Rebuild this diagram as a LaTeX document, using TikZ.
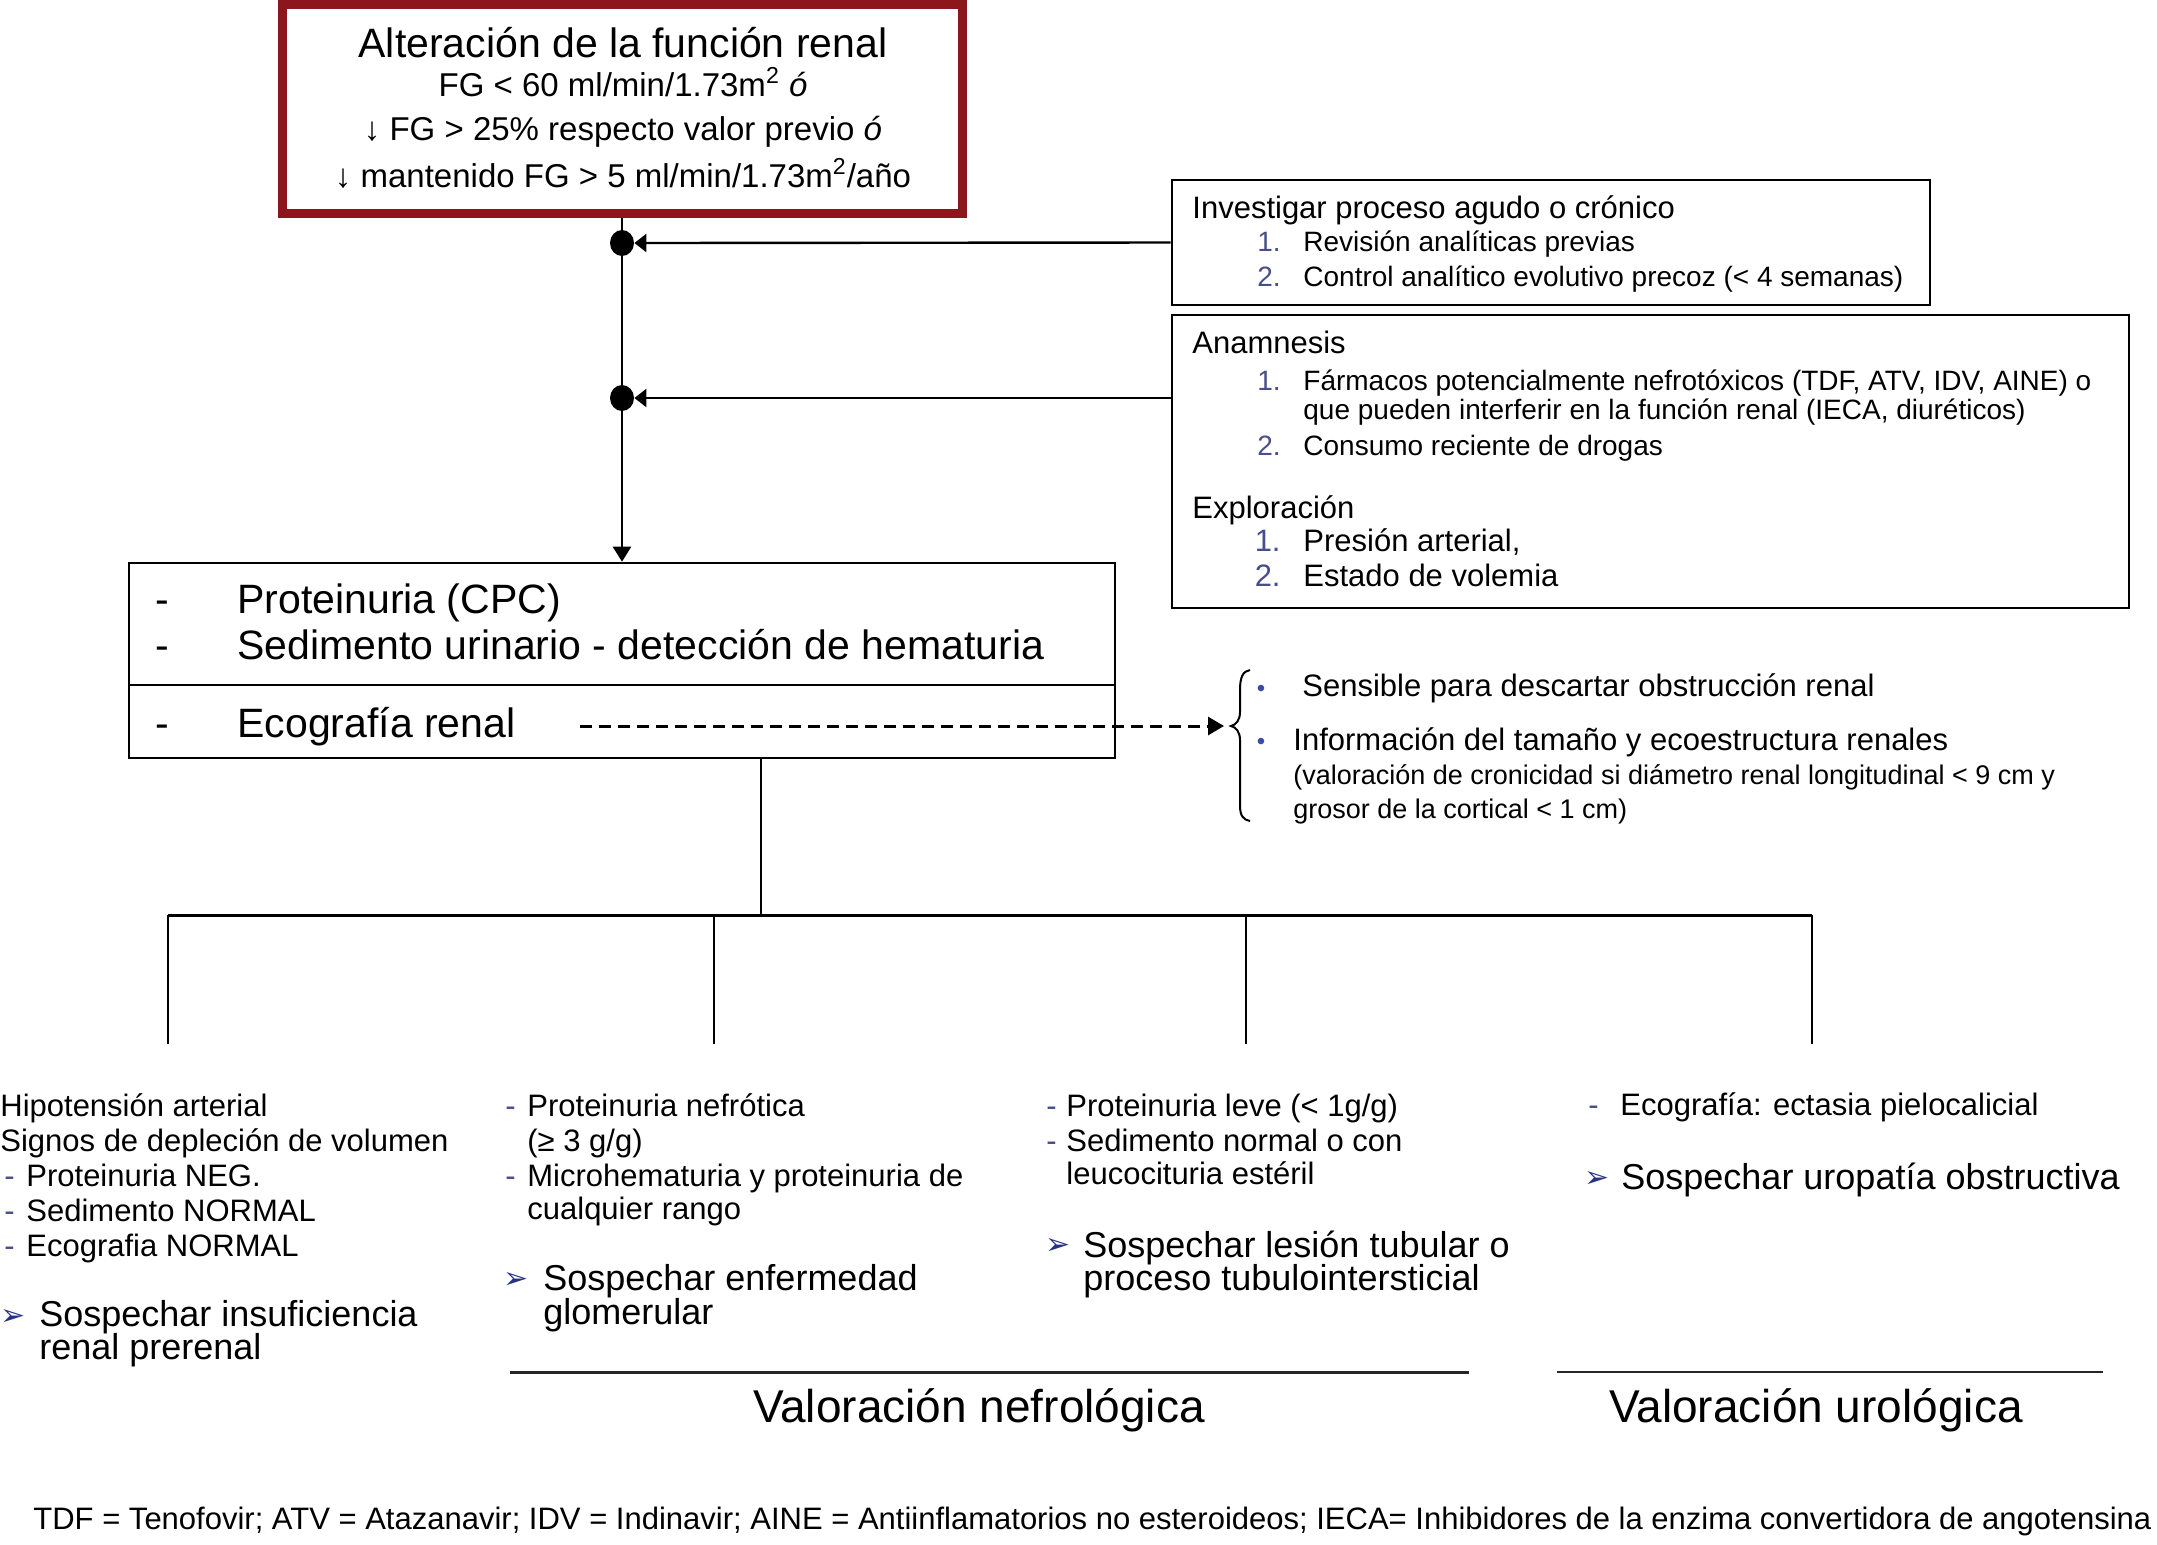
\documentclass[tikz,border=0pt]{standalone}
\usepackage{fontspec}
\setmainfont{Liberation Sans}
\newfontfamily\symfont{DejaVu Sans}
\usetikzlibrary{arrows.meta,shapes.geometric}
\definecolor{boxred}{RGB}{140,22,28}
\definecolor{numblue}{RGB}{72,78,140}
\definecolor{bulblue}{RGB}{60,75,165}
\definecolor{arrblue}{RGB}{40,50,130}
\newcommand\myfs[1]{\fontsize{#1}{#1}\selectfont}
\begin{document}
\begin{tikzpicture}[x=0.5pt,y=-0.5pt,
  lbl/.style={inner sep=0, anchor=west, text height=.9em, text depth=.2em},
  numlbl/.style={inner sep=0, anchor=east, text height=.9em, text depth=.2em, text=numblue},
  ctr/.style={inner sep=0, anchor=center, text height=.9em, text depth=.2em},
  boxn/.style={draw, line width=1.3pt, inner sep=0, rectangle},
  conn/.style={line width=1.2pt},
  thin/.style={line width=1pt},
  dotn/.style={ellipse, fill=black, inner sep=0, minimum width=12pt, minimum height=13pt},
  fA/.style={font=\myfs{20.5}},
  fB/.style={font=\myfs{16.5}},
  fH/.style={font=\myfs{15.5}},
  fI/.style={font=\myfs{14}},
  fS/.style={font=\myfs{13.5}},
  fP/.style={font=\myfs{18}},
  fV/.style={font=\myfs{23}},
  dsh/.style={lbl, font=\myfs{15.5}, text=numblue},
  arr/.style={lbl, font=\symfont\myfs{15}, text=arrblue},
  bul/.style={ctr, font=\myfs{12}, text=bulblue}
]
\useasboundingbox (0,0) rectangle (2157,1544);
\fill[white] (0,0) rectangle (2157,1544);

% ---- top red box
\node[draw=boxred, line width=4.5pt, inner sep=0, minimum width=340pt, minimum height=104.5pt] (alt) at (622,108.5) {};
\node[ctr, fA] (a1) at (623,50) {Alteración de la función renal};
\node[ctr, fB] (a2) at (623,89) {FG < 60 ml/min/1.73m\textsuperscript{2} \textit{ó}};
\node[ctr, fB] (a3) at (623,133) {↓ FG > 25\% respecto valor previo \textit{ó}};
\node[ctr, fB] (a4) at (623,180) {↓ mantenido FG > 5 ml/min/1.73m\textsuperscript{2}/año};

% ---- right boxes
\node[boxn, minimum width=379pt, minimum height=62.5pt] (inv) at (1551,242.5) {};
\node[lbl, fH] (i0) at (1192,211) {Investigar proceso agudo o crónico};
\node[numlbl, fI] (i1n) at (1281,244) {1.};
\node[lbl, fI] (i1) at (1303,244) {Revisión analíticas previas};
\node[numlbl, fI] (i2n) at (1281,279) {2.};
\node[lbl, fI] (i2) at (1303,279) {Control analítico evolutivo precoz (< 4 semanas)};

\node[boxn, minimum width=478.5pt, minimum height=146.5pt] (ana) at (1650.5,461.5) {};
\node[lbl, fH] (n0) at (1192,346) {Anamnesis};
\node[numlbl, fI] (n1n) at (1281,383) {1.};
\node[lbl, fI] (n1) at (1303,383) {Fármacos potencialmente nefrotóxicos (TDF, ATV, IDV, AINE) o};
\node[lbl, fI] (n1b) at (1303,412) {que pueden interferir en la función renal (IECA, diuréticos)};
\node[numlbl, fI] (n2n) at (1281,448) {2.};
\node[lbl, fI] (n2) at (1303,448) {Consumo reciente de drogas};
\node[lbl, fH] (e0) at (1192,511) {Exploración};
\node[numlbl, fH] (e1n) at (1281,544) {1.};
\node[lbl, fH] (e1) at (1303,544) {Presión arterial,};
\node[numlbl, fH] (e2n) at (1281,579) {2.};
\node[lbl, fH] (e2) at (1303,579) {Estado de volemia};

% ---- middle box
\node[boxn, minimum width=493pt, minimum height=61pt] (midA) at (622,624) {};
\node[boxn, minimum width=493pt, minimum height=36.5pt] (midB) at (622,721.5) {};
\node[lbl, fA] (m1d) at (155,606) {-};
\node[lbl, fA] (m1) at (237,606) {Proteinuria (CPC)};
\node[lbl, fA] (m2d) at (155,652) {-};
\node[lbl, fA] (m2) at (237,652) {Sedimento urinario - detección de hematuria};
\node[lbl, fA] (m3d) at (155,730) {-};
\node[lbl, fA] (m3) at (237,730) {Ecografía renal};

% ---- main vertical connector with junction dots
\draw[conn, -{Triangle[length=7.5pt,width=9pt]}] (alt.south) -- (midA.north);
\node[dotn] (d1) at (622,243) {};
\node[dotn] (d2) at (622,398) {};
\draw[conn, -{Triangle[length=6pt,width=9pt]}] (inv.west) -- (d1.east);
\draw[conn, -{Triangle[length=6pt,width=9pt]}] (ana.west |- d2) -- (d2.east);

% ---- dashed arrow and brace
\coordinate (dstart) at (580,726);
\coordinate (brtip) at (1224,726);
\draw[line width=1.5pt, dash pattern=on 6pt off 3.5pt, -{Triangle[length=8pt,width=9pt]}] (dstart) -- (brtip);
\draw[line width=1pt] (1250,670) .. controls (1243,671) and (1240,677) .. (1240,690) -- (1240,712) .. controls (1240,720) and (1236,725) .. (1231,726) .. controls (1236,727) and (1240,732) .. (1240,740) -- (1240,806) .. controls (1240,815) and (1243,820) .. (1250,821);
\node[bul] (b1) at (1261,689) {•};
\node[lbl, fH] (s1) at (1302,689) {Sensible para descartar obstrucción renal};
\node[bul] (b2) at (1261,742) {•};
\node[lbl, fH] (s2) at (1293,743) {Información del tamaño y ecoestructura renales};
\node[lbl, fS] (s3) at (1293,777) {(valoración de cronicidad si diámetro renal longitudinal < 9 cm y};
\node[lbl, fS] (s4) at (1293,811) {grosor de la cortical < 1 cm)};

% ---- lower tree
\coordinate (split) at (761,915);
\coordinate (h1) at (168,915);
\coordinate (h2) at (714,915);
\coordinate (h3) at (1246,915);
\coordinate (h4) at (1812,915);
\coordinate (f1) at (168,1044);
\coordinate (f2) at (714,1044);
\coordinate (f3) at (1246,1044);
\coordinate (f4) at (1812,1044);
\draw[thin] (midB.south -| split) -- (split);
\draw[line width=1.5pt] (h1) -- (h4);
\draw[thin] (h1) -- (f1);
\draw[thin] (h2) -- (f2);
\draw[thin] (h3) -- (f3);
\draw[thin] (h4) -- (f4);

% ---- column 1
\node[lbl, fH] (c1a) at (0,1109) {Hipotensión arterial};
\node[lbl, fH] (c1b) at (0,1144) {Signos de depleción de volumen};
\node[dsh] (c1cd) at (4,1179) {-};
\node[lbl, fH] (c1c) at (26,1179) {Proteinuria NEG.};
\node[dsh] (c1dd) at (4,1214) {-};
\node[lbl, fH] (c1d) at (26,1214) {Sedimento NORMAL};
\node[dsh] (c1ed) at (4,1249) {-};
\node[lbl, fH] (c1e) at (26,1249) {Ecografia NORMAL};
\node[arr] (c1fa) at (0,1318) {➢};
\node[lbl, fP] (c1f) at (39,1319) {Sospechar insuficiencia};
\node[lbl, fP] (c1g) at (39,1352) {renal prerenal};

% ---- column 2
\node[dsh] (c2ad) at (505,1109) {-};
\node[lbl, fH] (c2a) at (527,1109) {Proteinuria nefrótica};
\node[lbl, fH] (c2b) at (527,1144) {(≥ 3 g/g)};
\node[dsh] (c2cd) at (505,1179) {-};
\node[lbl, fH] (c2c) at (527,1179) {Microhematuria y proteinuria de};
\node[lbl, fH] (c2d) at (527,1212) {cualquier rango};
\node[arr] (c2ea) at (503,1281) {➢};
\node[lbl, fP] (c2e) at (543,1283) {Sospechar enfermedad};
\node[lbl, fP] (c2f) at (543,1317) {glomerular};

% ---- column 3
\node[dsh] (c3ad) at (1046,1109) {-};
\node[lbl, fH] (c3a) at (1066,1109) {Proteinuria leve (< 1g/g)};
\node[dsh] (c3bd) at (1046,1144) {-};
\node[lbl, fH] (c3b) at (1066,1144) {Sedimento normal o con};
\node[lbl, fH] (c3c) at (1066,1177) {leucocituria estéril};
\node[arr] (c3da) at (1045,1247) {➢};
\node[lbl, fP] (c3d) at (1083,1250) {Sospechar lesión tubular o};
\node[lbl, fP] (c3e) at (1083,1283) {proceso tubulointersticial};

% ---- column 4
\node[dsh] (c4ad) at (1588,1108) {-};
\node[lbl, fH] (c4a) at (1620,1108) {Ecografía: ectasia pielocalicial};
\node[arr] (c4ba) at (1584,1180) {➢};
\node[lbl, fP] (c4b) at (1621,1182) {Sospechar uropatía obstructiva};

% ---- assessment lines and labels
\draw[line width=1.5pt, black!85] (510,1372) -- (1469,1372);
\draw[line width=1.2pt, black!85] (1557,1372) -- (2103,1372);
\node[ctr, fV] (vn) at (979,1415) {Valoración nefrológica};
\node[ctr, fV] (vu) at (1816,1415) {Valoración urológica};

% ---- footer
\node[lbl, fH] (foot) at (33,1522) {TDF = Tenofovir; ATV = Atazanavir; IDV = Indinavir; AINE = Antiinflamatorios no esteroideos; IECA= Inhibidores de la enzima convertidora de angotensina};
\end{tikzpicture}
\end{document}
